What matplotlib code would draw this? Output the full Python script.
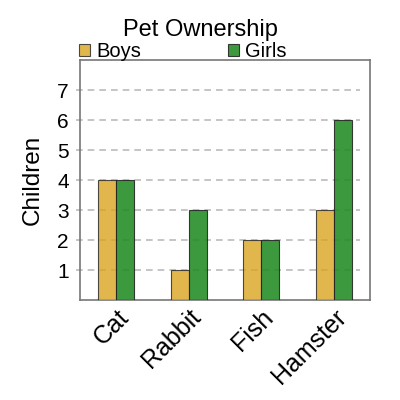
import numpy as np
import matplotlib
matplotlib.use('Agg')
import matplotlib.pyplot as plt
import matplotlib.transforms as mtransforms

plt.rcParams['font.family'] = ['Liberation Sans', 'DejaVu Sans']

pets = ['Cat', 'Rabbit', 'Fish', 'Hamster']
boys = [4, 1, 2, 3]
girls = [4, 3, 2, 6]
yticks = [1, 2, 3, 4, 5, 6, 7]

fig = plt.figure(figsize=(4, 4), dpi=100)
ax = fig.add_axes([0.2, 0.25, 0.725, 0.6])

x = np.arange(len(pets))
w = 0.25
ax.bar(x - w/2, boys, w, color='#DAA520', alpha=0.8, edgecolor='#222222',
       linewidth=0.8, label='Boys', zorder=3)
ax.bar(x + w/2, girls, w, color='#228B22', alpha=0.88, edgecolor='#222222',
       linewidth=0.8, label='Girls', zorder=3)

# dashed grid lines, starting a bit left of the axis and stopping before the right edge
trans = mtransforms.blended_transform_factory(ax.transAxes, ax.transData)
ax.hlines(yticks, -0.015, 0.965, transform=trans, colors='#bbbbbb',
          linestyles=(0, (4, 3)), linewidth=1.2, clip_on=False, zorder=1)

ax.set_xlim(-0.5, 3.5)
ax.set_ylim(0, 8)
ax.set_yticks(yticks)
ax.tick_params(axis='both', length=0)
ax.tick_params(axis='y', pad=8, labelsize=15)
ax.set_xticks(x)
ax.set_xticklabels(pets, rotation=45, ha='right', rotation_mode='anchor', fontsize=18)
for s in ax.spines.values():
    s.set_color('#777777')
    s.set_linewidth(1.2)

ax.set_ylabel('Children', fontsize=17.5, labelpad=10)
fig.text(0.5, 0.925, 'Pet Ownership', ha='center', va='center', fontsize=17)
ax.legend(loc='lower left', bbox_to_anchor=(-0.003, 0.995), ncol=2, frameon=False,
          fontsize=14.5, handlelength=0.55, handleheight=0.55, handletextpad=0.3,
          columnspacing=4.3, borderaxespad=0, borderpad=0)

fig.savefig('out.png', dpi=100)
